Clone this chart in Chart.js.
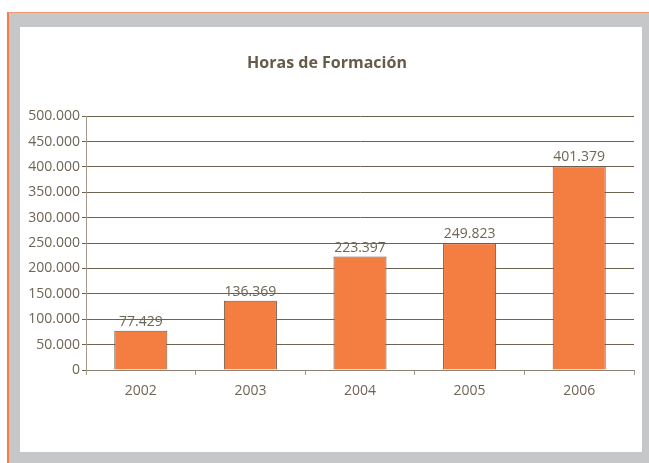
<!DOCTYPE html>
<html>
<head>
<meta charset="utf-8">
<script src="https://cdn.jsdelivr.net/npm/chart.js@4"></script>
<style>
  html, body { margin: 0; padding: 0; background: #ffffff; width: 649px; height: 463px; overflow: hidden; }
  #frame { position: absolute; left: 7px; top: 12px; width: 642px; height: 451px;
           background: #c6c7c9; border-top: 1px solid #f29a76; border-left: 2px solid #f47d40; box-sizing: border-box; }
  #panel { position: absolute; left: 20px; top: 27px; width: 622px; height: 425px; background: #ffffff; }
  #wrap { position: absolute; left: 0; top: 0; width: 649px; height: 463px; }
</style>
</head>
<body>
<div id="frame"></div>
<div id="panel"></div>
<div id="wrap"><canvas id="c" width="649" height="463"></canvas></div>
<script>
const chartTitle = "Horas de Formación";
const categories = ["2002", "2003", "2004", "2005", "2006"];
const hours = [77429, 136369, 223397, 249823, 401379];
const yMin = 0, yMax = 500000, yStep = 50000;

function fmt(v) {
  const s = Math.round(v).toString();
  return s.replace(/\B(?=(\d{3})+(?!\d))/g, ".");
}

const textColor = "#6f6555";
const gridColor = "#6e6350";
const axisColor = "#a39a8a";

const valueLabels = {
  id: "valueLabels",
  afterDatasetsDraw(chart) {
    const ctx = chart.ctx;
    const meta = chart.getDatasetMeta(0);
    ctx.save();
    ctx.font = "14px 'Open Sans'";
    ctx.fillStyle = textColor;
    ctx.textAlign = "center";
    ctx.textBaseline = "bottom";
    meta.data.forEach((bar, i) => {
      ctx.fillText(fmt(chart.data.datasets[0].data[i]), bar.x, bar.y - 2);
    });
    ctx.restore();
  }
};

new Chart(document.getElementById("c"), {
  type: "bar",
  data: {
    labels: categories,
    datasets: [{
      data: hours,
      backgroundColor: "#f47d41",
      borderColor: "#6e5a44",
      borderWidth: 1,
      barPercentage: 0.484,
      categoryPercentage: 1.0
    }]
  },
  options: {
    responsive: false,
    animation: false,
    devicePixelRatio: 1,
    layout: { padding: { left: 20, right: 15, top: 27, bottom: 11 } },
    plugins: {
      legend: { display: false },
      tooltip: { enabled: false },
      title: {
        display: true,
        text: chartTitle,
        color: "#665b48",
        font: { family: "'Open Sans'", size: 16, weight: "bold" },
        padding: { top: 27, bottom: 43 }
      }
    },
    scales: {
      x: {
        afterFit(scale) { scale.height = 82; },
        grid: {
          offset: true,
          drawOnChartArea: true,
          color: (c) => (c.index === categories.length ? axisColor : "rgba(0,0,0,0)"),
          tickColor: axisColor,
          tickLength: 5,
          lineWidth: 1
        },
        border: { display: true, color: "#8c8271", width: 1 },
        ticks: { color: textColor, font: { family: "'Open Sans'", size: 14 }, padding: 8 }
      },
      y: {
        min: yMin, max: yMax,
        afterFit(scale) { scale.width = 66; },
        grid: { color: gridColor, tickColor: gridColor, tickLength: 4, lineWidth: 1 },
        border: { display: true, color: axisColor, width: 1 },
        ticks: { stepSize: yStep, color: textColor, font: { family: "'Open Sans'", size: 14 }, padding: 2,
                 callback: (v) => fmt(v) }
      }
    }
  },
  plugins: [valueLabels]
});
</script>
</body>
</html>
